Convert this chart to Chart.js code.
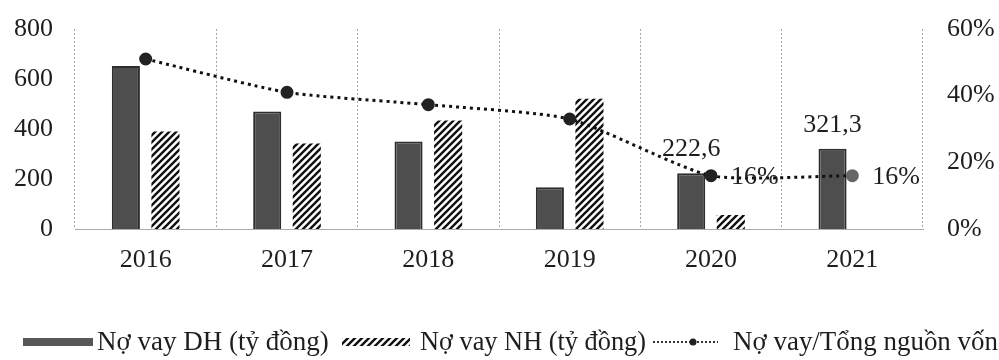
<!DOCTYPE html>
<html>
<head>
<meta charset="utf-8">
<script src="https://cdn.jsdelivr.net/npm/chart.js@4.4.0/dist/chart.umd.min.js"></script>
<style>
  html, body { margin: 0; padding: 0; background: #fff; }
</style>
</head>
<body>
<canvas id="chart" width="999" height="360"></canvas>
<script>
// === Dữ liệu ===
const years = ["2016", "2017", "2018", "2019", "2020", "2021"];
const noVayDH = [652, 470, 350, 167, 222.6, 321.3];
const noVayNH = [390, 342, 434, 521, 56, 0];
const tyLeNoVay = [0.51, 0.41, 0.373, 0.33, 0.16, 0.16];
const nhanDH = ["", "", "", "", "222,6", "321,3"];
const nhanTyLe = ["", "", "", "", "16%", "16%"];
const seriesNames = ["Nợ vay DH (tỷ đồng)", "Nợ vay NH (tỷ đồng)", "Nợ vay/Tổng nguồn vốn"];

const FONT = "'Liberation Serif', 'Times New Roman', serif";
const textColor = "#1e1e1e";

// === Mẫu gạch chéo ===
function hatchPattern() {
  const c = document.createElement("canvas");
  c.width = 7;
  c.height = 7;
  const g = c.getContext("2d");
  g.fillStyle = "#fff";
  g.fillRect(0, 0, 7, 7);
  g.strokeStyle = "#111";
  g.lineWidth = 2.4;
  g.beginPath();
  g.moveTo(-1, 8); g.lineTo(8, -1);
  g.moveTo(-1, 1); g.lineTo(1, -1);
  g.moveTo(6, 8); g.lineTo(8, 6);
  g.stroke();
  return document.getElementById("chart").getContext("2d").createPattern(c, "repeat");
}
const hatch = hatchPattern();

// === Chú giải (vẽ tay cho khớp vị trí) ===
const legendPlugin = {
  id: "chuGiai",
  afterDraw(chart) {
    const ctx = chart.ctx;
    const iconX = [23, 342, 653];
    const iconW = [70, 68, 65];
    const textX = [97, 420, 733];
    const textW = [232, 226, 265];
    const yMid = 342;
    ctx.save();
    ctx.font = "27px " + FONT;
    ctx.textBaseline = "middle";
    ctx.textAlign = "left";
    chart.data.datasets.forEach((ds, i) => {
      const x = iconX[i];
      const w = iconW[i];
      if (i === 0) {
        ctx.fillStyle = "#575757";
        ctx.fillRect(x, yMid - 4, w, 8);
      } else if (i === 1) {
        ctx.fillStyle = hatch;
        ctx.fillRect(x, yMid - 4, w, 8);
      } else {
        ctx.strokeStyle = "#333";
        ctx.lineWidth = 2;
        ctx.setLineDash([2, 2]);
        ctx.beginPath();
        ctx.moveTo(x, yMid);
        ctx.lineTo(x + w, yMid);
        ctx.stroke();
        ctx.setLineDash([]);
        ctx.fillStyle = "#222";
        ctx.beginPath();
        ctx.arc(x + 40, yMid, 3.5, 0, Math.PI * 2);
        ctx.fill();
      }
      ctx.fillStyle = textColor;
      ctx.fillText(ds.label, textX[i], yMid + 1, textW[i]);
    });
    ctx.restore();
  },
};

// === Nhãn số liệu ===
const labelPlugin = {
  id: "nhanSoLieu",
  afterDatasetsDraw(chart) {
    const ctx = chart.ctx;
    ctx.save();
    ctx.font = "26px " + FONT;
    ctx.fillStyle = textColor;
    ctx.textBaseline = "middle";
    const dhMeta = chart.getDatasetMeta(0);
    ctx.textAlign = "center";
    nhanDH.forEach((t, i) => {
      if (!t) return;
      const bar = dhMeta.data[i];
      ctx.fillText(t, bar.x, bar.y - 24);
    });
    const lineMeta = chart.getDatasetMeta(2);
    ctx.textAlign = "left";
    nhanTyLe.forEach((t, i) => {
      if (!t) return;
      const p = lineMeta.data[i];
      ctx.fillText(t, p.x + 20, p.y + 2);
    });
    ctx.restore();
  },
};

new Chart(document.getElementById("chart"), {
  type: "bar",
  data: {
    labels: years,
    datasets: [
      {
        label: seriesNames[0],
        data: noVayDH,
        backgroundColor: "#4e4e4e",
        borderColor: "#2e2e2e",
        borderWidth: 2,
        yAxisID: "y",
        order: 1,
        barPercentage: 0.71,
        categoryPercentage: 0.56,
      },
      {
        label: seriesNames[1],
        data: noVayNH,
        backgroundColor: hatch,
        borderWidth: 0,
        yAxisID: "y",
        order: 1,
        barPercentage: 0.71,
        categoryPercentage: 0.56,
      },
      {
        type: "line",
        label: seriesNames[2],
        data: tyLeNoVay,
        yAxisID: "y1",
        order: 0,
        borderColor: "#111",
        borderWidth: 3,
        borderDash: [3, 4],
        tension: 0.2,
        pointRadius: 5,
        pointBackgroundColor: ["#222", "#222", "#222", "#222", "#222", "#666"],
        pointBorderColor: ["#222", "#222", "#222", "#222", "#222", "#666"],
        fill: false,
      },
    ],
  },
  options: {
    responsive: false,
    animation: false,
    layout: { padding: { top: 17, bottom: 60, left: 0, right: 0 } },
    plugins: {
      tooltip: { enabled: false },
      legend: { display: false },
    },
    scales: {
      x: {
        grid: { display: true, color: "#a5a5a5", drawTicks: false },
        border: { display: true, color: "#aaa", dash: [2, 2] },
        ticks: { color: textColor, padding: 16, font: { family: FONT, size: 26 } },
        afterFit: (s) => { s.height = 71; },
      },
      y: {
        position: "left",
        min: 0,
        max: 800,
        grid: { display: false },
        border: { display: false },
        ticks: { stepSize: 200, color: textColor, padding: 14, font: { family: FONT, size: 26, lineHeight: 1 } },
        afterFit: (s) => { s.width = 75; },
      },
      y1: {
        position: "right",
        min: 0,
        max: 0.6,
        grid: { display: false },
        border: { display: false },
        ticks: {
          stepSize: 0.2,
          color: textColor,
          padding: 16,
          font: { family: FONT, size: 26, lineHeight: 1 },
          callback: (v) => Math.round(v * 100) + "%",
        },
        afterFit: (s) => { s.width = 76; },
      },
    },
  },
  plugins: [labelPlugin, legendPlugin],
});
</script>
</body>
</html>
